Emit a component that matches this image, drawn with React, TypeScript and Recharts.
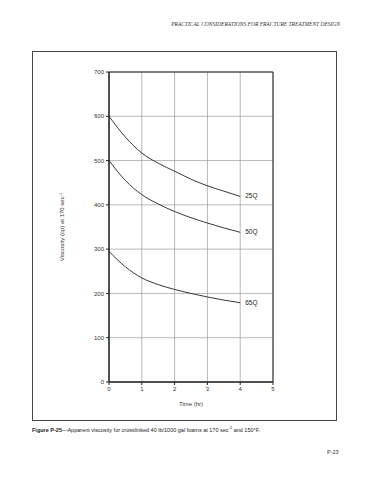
import { LineChart, Line, XAxis, YAxis, CartesianGrid, ReferenceArea } from "recharts";

const times = [0, 0.5, 1, 1.5, 2, 2.5, 3, 3.5, 4];
const q25 = [600, 553, 517, 494, 476, 458, 443, 431, 419];
const q50 = [500, 455, 423, 402, 385, 371, 359, 348, 338];
const q65 = [295, 260, 235, 220, 209, 200, 192, 185, 179];
const seriesNames = ["25Q", "50Q", "65Q"];
const xTicks = [0, 1, 2, 3, 4, 5];
const yTicks = [0, 100, 200, 300, 400, 500, 600, 700];

const data = times.map((t, i) => ({ t, q25: q25[i], q50: q50[i], q65: q65[i] }));

const font = "'Liberation Sans', Arial, sans-serif";

const endLabel = (name: string) => (props: any) => {
  const { x, y, index } = props;
  if (index !== times.length - 1) return null;
  return (
    <text x={x + 5} y={y + 2} fontSize={6.5} fontFamily={font} fill="#222">
      {name}
    </text>
  );
};

const YLabel = () => (
  <text
    x={64}
    y={227}
    transform="rotate(-90 64 227)"
    textAnchor="middle"
    fontSize={6}
    fontFamily={font}
    fill="#333"
  >
    Viscosity (cp) at 170 sec
    <tspan dy={-2} fontSize={4}>-1</tspan>
  </text>
);

export default function App() {
  return (
    <div style={{ position: "absolute", left: 0, top: 0, width: 370, height: 480, background: "#fff" }}>
      <div
        style={{
          position: "absolute",
          right: 30,
          top: 21,
          fontFamily: "'Liberation Serif', serif",
          fontStyle: "italic",
          fontSize: 5.5,
          color: "#333",
          whiteSpace: "nowrap",
        }}
      >
        PRACTICAL CONSIDERATIONS FOR FRACTURE TREATMENT DESIGN
      </div>
      <div
        style={{
          position: "absolute",
          left: 32,
          top: 51,
          width: 305,
          height: 370,
          border: "1px solid #444",
          boxSizing: "border-box",
        }}
      />
      <div style={{ position: "absolute", left: 0, top: 0 }}>
        <LineChart
          width={370}
          height={480}
          data={data}
          margin={{ top: 72, right: 97, bottom: 68, left: 79 }}
        >
          <CartesianGrid stroke="#999" strokeWidth={0.7} horizontal vertical />
          <ReferenceArea x1={0} x2={5} y1={0} y2={700} fill="none" stroke="#222" strokeWidth={1} fillOpacity={0} />
          <XAxis
            dataKey="t"
            type="number"
            domain={[0, 5]}
            ticks={xTicks}
            height={30}
            tickSize={3}
            tick={{ fontSize: 6, fontFamily: font, fill: "#333" }}
            stroke="#222"
            label={{ value: "Time (hr)", position: "insideBottom", offset: 6, fontSize: 6, fontFamily: font, fill: "#333" }}
          />
          <YAxis
            type="number"
            domain={[0, 700]}
            ticks={yTicks}
            width={30}
            tickSize={3}
            tick={{ fontSize: 6, fontFamily: font, fill: "#333" }}
            stroke="#222"
            label={<YLabel />}
          />
          <Line type="monotone" dataKey="q25" stroke="#222" strokeWidth={0.9} dot={false} isAnimationActive={false} label={endLabel(seriesNames[0])} />
          <Line type="monotone" dataKey="q50" stroke="#222" strokeWidth={0.9} dot={false} isAnimationActive={false} label={endLabel(seriesNames[1])} />
          <Line type="monotone" dataKey="q65" stroke="#222" strokeWidth={0.9} dot={false} isAnimationActive={false} label={endLabel(seriesNames[2])} />
        </LineChart>
      </div>
      <div
        style={{
          position: "absolute",
          left: 32,
          top: 425,
          fontFamily: font,
          fontSize: 5.5,
          color: "#222",
          whiteSpace: "nowrap",
        }}
      >
        <b>Figure P-25</b>—Apparent viscosity for crosslinked 40 lb/1000 gal foams at 170 sec
        <sup style={{ fontSize: 4 }}>-1</sup> and 150°F.
      </div>
      <div
        style={{
          position: "absolute",
          left: 327,
          top: 449,
          fontFamily: font,
          fontSize: 5.5,
          color: "#333",
        }}
      >
        P-23
      </div>
    </div>
  );
}
